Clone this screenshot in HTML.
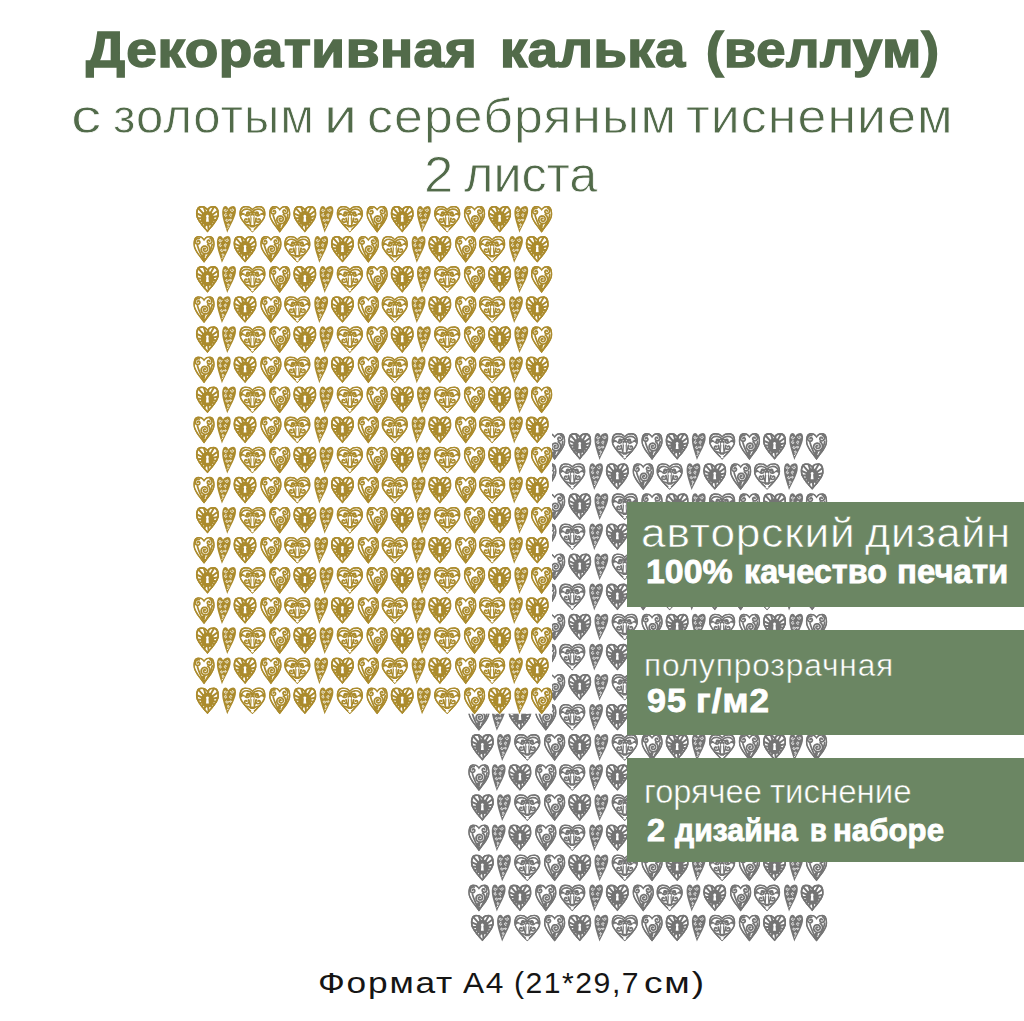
<!DOCTYPE html>
<html><head><meta charset="utf-8">
<style>
html,body{margin:0;padding:0;background:#fff;}
body{width:1024px;height:1021px;position:relative;overflow:hidden;font-family:"Liberation Sans",sans-serif;}
.t{position:absolute;white-space:nowrap;line-height:1;transform-origin:0 0;}
svg.layer{position:absolute;left:0;top:0;}
.box{position:absolute;left:627px;width:397px;background:#6b8663;}
</style></head><body>
<svg class="layer" width="1024" height="1021" viewBox="0 0 1024 1021"><defs><clipPath id="cK"><path d="M368,92 C419,22 492,0 570,0 C680,2 735,110 735,262 C735,455 529,650 368,850 C206,650 0,455 0,262 C0,110 55,2 165,0 C243,0 316,22 368,92Z"/></clipPath><clipPath id="cO"><path d="M420,92 C479,22 563,0 651,0 C777,2 840,110 840,262 C840,455 605,650 420,850 C235,650 0,455 0,262 C0,110 63,2 189,0 C277,0 361,22 420,92Z"/></clipPath><clipPath id="cS"><path d="M340,92 C388,22 456,0 527,0 C629,2 680,110 680,262 C680,455 490,650 340,855 C190,650 0,455 0,262 C0,110 51,2 153,0 C224,0 292,22 340,92Z"/></clipPath><symbol id="hK" viewBox="0 0 735 850" overflow="visible"><path d="M368,92 C419,22 492,0 570,0 C680,2 735,110 735,262 C735,455 529,650 368,850 C206,650 0,455 0,262 C0,110 55,2 165,0 C243,0 316,22 368,92Z"/><g clip-path="url(#cK)"><path fill="#fff" transform="translate(368,382) scale(0.864,0.865) translate(-368,-382)" d="M368,92 C419,22 492,0 570,0 C680,2 735,110 735,262 C735,455 529,650 368,850 C206,650 0,455 0,262 C0,110 55,2 165,0 C243,0 316,22 368,92Z"/><path fill="none" stroke="currentColor" stroke-width="64" d="M367,395L1052,541M367,395L933,806M367,395L717,1001M367,395L440,1091M367,395L151,1061M367,395L-101,915M367,395L-272,680M367,395L-333,395M367,395L-272,110M367,395L-101,-125M367,395L151,-271M367,395L440,-301M367,395L717,-211M367,395L933,-16M367,395L1052,249"/><ellipse cx="367" cy="400" rx="212" ry="240"/><path fill="none" stroke="currentColor" stroke-width="100" d="M368,92 C419,22 492,0 570,0 C680,2 735,110 735,262 C735,455 529,650 368,850 C206,650 0,455 0,262 C0,110 55,2 165,0 C243,0 316,22 368,92Z"/></g><path fill="#fff" d="M367,285 a45,45 0 1,1 -0.1,0Z M338,330 L396,330 L412,510 L322,510Z"/></symbol><symbol id="hO" viewBox="0 0 840 850" overflow="visible"><path d="M420,92 C479,22 563,0 651,0 C777,2 840,110 840,262 C840,455 605,650 420,850 C235,650 0,455 0,262 C0,110 63,2 189,0 C277,0 361,22 420,92Z"/><g clip-path="url(#cO)"><path fill="#fff" transform="translate(420,382) scale(0.900,0.886) translate(-420,-382)" d="M420,92 C479,22 563,0 651,0 C777,2 840,110 840,262 C840,455 605,650 420,850 C235,650 0,455 0,262 C0,110 63,2 189,0 C277,0 361,22 420,92Z"/><g fill="none" stroke="currentColor" stroke-width="54" stroke-linecap="round"><path d="M60,290 C45,160 150,95 260,105 C330,112 385,150 420,200"/><path d="M780,290 C795,160 690,95 580,105 C510,112 455,150 420,200"/><path d="M246,247 L243,244 L241,240 L239,235 L239,230 L239,225 L241,219 L243,214 L247,209 L252,204 L258,201 L265,198 L273,197 L281,197 L290,199 L298,202 L305,207 L312,214 L318,222 L322,231 L325,241 L326,252 L325,263 L321,274 L316,285 L309,295 L299,303 L288,310 L276,315 L263,318 L249,318 L235,316 L221,311 L208,304 L196,294 C360,170 400,200 420,240"/><path d="M594,247 L597,244 L599,240 L601,235 L601,230 L601,225 L599,219 L597,214 L593,209 L588,204 L582,201 L575,198 L567,197 L559,197 L550,199 L542,202 L535,207 L528,214 L522,222 L518,231 L515,241 L514,252 L515,263 L519,274 L524,285 L531,295 L541,303 L552,310 L564,315 L577,318 L591,318 L605,316 L619,311 L632,304 L644,294 C480,170 440,200 420,240"/><path d="M242,440 L242,436 L240,431 L238,427 L234,423 L230,420 L224,417 L218,416 L211,416 L204,417 L197,420 L191,424 L185,429 L180,436 L176,444 L173,453 L173,463 L174,472 L177,482 L182,492 L189,500 L197,508 L208,514 L219,518 L231,520 L244,520 L257,517 L270,512 L282,505 L292,495 L301,483 L308,470 L312,455 L314,439 L313,423 L308,407 L301,391 L291,377 C330,520 360,560 375,640"/><path d="M598,440 L598,436 L600,431 L602,427 L606,423 L610,420 L616,417 L622,416 L629,416 L636,417 L643,420 L649,424 L655,429 L660,436 L664,444 L667,453 L667,463 L666,472 L663,482 L658,492 L651,500 L643,508 L632,514 L621,518 L609,520 L596,520 L583,517 L570,512 L558,505 L548,495 L539,483 L532,470 L528,455 L526,439 L527,423 L532,407 L539,391 L549,377 C510,520 480,560 465,640"/><path d="M40,245 L150,265"/><path d="M800,245 L690,265"/><path d="M110,570 C200,600 290,590 370,650"/><path d="M730,570 C640,600 550,590 470,650"/><path d="M240,700 L420,800 L600,700"/></g><path d="M350,250 L490,250 L480,690 L360,690Z"/><circle cx="100" cy="250" r="35"/><circle cx="740" cy="250" r="35"/><path fill="none" stroke="currentColor" stroke-width="84" d="M420,92 C479,22 563,0 651,0 C777,2 840,110 840,262 C840,455 605,650 420,850 C235,650 0,455 0,262 C0,110 63,2 189,0 C277,0 361,22 420,92Z"/></g><path fill="#fff" d="M420,300 a44,44 0 1,1 -0.1,0Z M396,350 L444,350 L458,610 L382,610Z"/><path fill="#fff" d="M420,715 L475,770 L420,815 L365,770Z"/></symbol><symbol id="hS" viewBox="0 0 680 855" overflow="visible"><path d="M340,92 C388,22 456,0 527,0 C629,2 680,110 680,262 C680,455 490,650 340,855 C190,650 0,455 0,262 C0,110 51,2 153,0 C224,0 292,22 340,92Z"/><g clip-path="url(#cS)"><path fill="#fff" transform="translate(340,385) scale(0.876,0.887) translate(-340,-385)" d="M340,92 C388,22 456,0 527,0 C629,2 680,110 680,262 C680,455 490,650 340,855 C190,650 0,455 0,262 C0,110 51,2 153,0 C224,0 292,22 340,92Z"/><g fill="none" stroke="currentColor" stroke-width="56" stroke-linecap="round"><path d="M131,178 L131,174 L131,169 L133,165 L136,160 L140,156 L144,153 L150,150 L156,149 L163,148 L171,149 L178,152 L185,156 L191,161 L197,168 L201,176 L204,185 L205,195 L205,205 L202,215 L198,225 L191,234 L183,243 L173,249 L162,255 L150,258 L137,259 L124,257 L110,254 L98,247 L86,239 L76,228 L68,215 L62,201 L58,185 L58,169 L60,152 L65,136 L73,121 L84,107 L98,95 L114,85 L131,78 L150,74 L170,74 L189,77"/><path d="M519,163 L519,159 L519,154 L517,150 L514,145 L510,141 L505,138 L500,135 L493,133 L486,133 L479,134 L471,137 L464,141 L458,147 L453,154 L448,162 L446,171 L445,181 L446,192 L448,202 L453,212 L460,221 L469,229 L479,236 L490,241 L503,244 L516,244 L530,242 L543,237 L556,230 L567,221 L577,209 L585,196 L590,181 L593,165 L593,148 L589,131 L583,115 L573,100 L561,86 L547,75 L530,66"/><path d="M380,408 L378,404 L374,401 L370,399 L365,397 L360,396 L354,397 L348,398 L342,401 L336,406 L331,411 L327,417 L325,425 L323,433 L323,442 L325,451 L329,460 L334,468 L341,475 L349,481 L359,486 L370,489 L382,490 L393,489 L405,486 L417,481 L427,473 L437,464 L444,452 L450,439 L453,425 L454,410 L452,395 L448,380 L440,366 L430,353 L418,342 L404,333 L387,326 L370,323 L352,322 L334,325 L316,331 L299,340 L284,352 L270,368 L260,385 L253,404 L249,425 L248,446 L252,468 L259,489 L271,508 L285,526 L303,541 L323,553 L346,561 L370,565 L395,565 L419,561 L443,552 L466,539 L486,522 L503,502 L516,478 L525,452 L529,425 L529,397 L524,369 L513,342 L499,317 L479,295 L456,276"/><path d="M130,300 C170,450 230,580 320,760"/><path d="M600,270 C580,420 520,540 420,680"/><path d="M330,642 L332,641 L334,640 L336,640 L338,640 L341,641 L343,643 L346,645 L347,647 L349,650 L350,654 L350,658 L349,662 L348,666 L345,670 L342,673 L338,676 L334,678 L329,680 L323,680 L317,680 L312,678 L306,675 L301,671 L297,666 L293,661 L291,654 L290,647 L290,640 L291,632 L294,625 L298,618 L303,612 L310,607 L318,603 L326,600 L335,599 L344,599 L353,602 L362,606"/></g><path d="M220,700 L450,700 L340,850Z"/><path fill="none" stroke="currentColor" stroke-width="84" d="M340,92 C388,22 456,0 527,0 C629,2 680,110 680,262 C680,455 490,650 340,855 C190,650 0,455 0,262 C0,110 51,2 153,0 C224,0 292,22 340,92Z"/></g></symbol><symbol id="hN" viewBox="0 0 440 855" overflow="visible"><path d="M195,90 C235,25 290,0 355,0 C420,5 440,70 440,150 C440,350 260,620 160,855 C90,620 0,400 0,230 C0,90 40,0 100,0 C145,0 175,40 195,90Z"/><g fill="none" stroke="#fff" stroke-width="30" stroke-linecap="round"><path d="M117,135 L118,133 L119,130 L119,127 L118,124 L117,121 L115,118 L112,115 L109,113 L105,112 L101,111 L96,111 L91,111 L87,113 L82,116 L78,119 L75,124 L72,129 L70,135 L69,141 L70,148 L71,154 L74,161 L78,167 L84,172 L90,176 L97,180 L105,182 L113,182 L122,181 L130,179 L138,175 L146,169 L152,162 L157,154 L161,145 L163,135"/><path d="M313,125 L312,123 L311,120 L311,117 L312,114 L313,110 L315,107 L318,105 L321,102 L325,100 L329,100 L334,99 L339,100 L344,102 L349,105 L353,109 L357,113 L360,119 L362,125 L363,132 L362,139 L361,146 L358,152 L353,159 L348,164 L341,169 L333,172 L325,174 L316,175 L307,174 L298,171 L290,167 L282,161 L275,154 L269,145 L265,136 L263,125"/><path d="M120,290 L122,289 L124,288 L127,288 L130,289 L132,290 L135,291 L138,294 L140,297 L141,300 L142,304 L142,308 L142,312 L140,317 L138,321 L134,325 L130,328 L125,331 L120,332 L114,333 L108,333 L102,331 L96,329 L90,325 L85,320 L81,314 L78,307 L76,300 L76,292 L77,284 L79,276 L83,269 L88,262 L94,256 L102,251 L111,247 L120,245"/><path d="M280,300 L282,301 L284,302 L287,302 L290,301 L292,300 L295,299 L298,296 L300,293 L301,290 L302,286 L302,282 L302,278 L300,273 L298,269 L294,265 L290,262 L285,259 L280,258 L274,257 L268,257 L262,259 L256,261 L250,265 L245,270 L241,276 L238,283 L236,290 L236,298 L237,306 L239,314 L243,321 L248,328 L254,334 L262,339 L271,343 L280,345"/><path d="M160,450 L161,448 L162,446 L162,443 L161,440 L160,438 L159,435 L156,432 L153,430 L150,429 L146,428 L142,428 L138,428 L133,430 L129,432 L125,436 L122,440 L119,445 L118,450 L117,456 L117,462 L119,468 L121,474 L125,480 L130,485 L136,489 L143,492 L150,494 L158,494 L166,493 L174,491 L181,487 L188,482 L194,476 L199,468 L203,459 L205,450"/><path d="M262,440 L261,438 L261,437 L261,435 L261,433 L262,430 L263,428 L265,427 L267,425 L270,424 L273,423 L276,423 L279,424 L283,425 L286,427 L288,429 L291,432 L293,436 L294,440 L295,444 L294,449 L293,453 L291,458 L288,462 L285,465 L280,468 L275,471 L270,472 L264,472 L258,472 L253,470 L247,467 L242,463 L238,459 L234,453 L231,447 L230,440"/><path d="M185,608 L183,609 L182,609 L179,610 L177,609 L175,608 L173,607 L171,605 L169,603 L168,600 L167,597 L167,593 L167,590 L169,586 L171,583 L173,580 L177,577 L181,575 L185,574 L190,573 L195,573 L200,574 L205,577 L209,580 L213,584 L217,588 L219,594 L221,600 L221,606 L221,613 L219,619 L216,626 L211,631 L206,636 L200,640 L193,643 L185,645"/><path d="M160,720 L190,690"/></g></symbol></defs>
<g fill="#747474" color="#747474"><use href="#hK" x="470.8" y="433.1" width="23.1" height="26.6"/><use href="#hN" x="497.1" y="433.1" width="13.8" height="26.8"/><use href="#hO" x="514.2" y="433.1" width="26.3" height="26.6"/><use href="#hS" x="544.0" y="433.1" width="21.3" height="26.8"/><use href="#hK" x="568.2" y="433.1" width="23.1" height="26.6"/><use href="#hN" x="594.5" y="433.1" width="13.8" height="26.8"/><use href="#hO" x="611.6" y="433.1" width="26.3" height="26.6"/><use href="#hS" x="641.4" y="433.1" width="21.3" height="26.8"/><use href="#hK" x="665.6" y="433.1" width="23.1" height="26.6"/><use href="#hN" x="691.9" y="433.1" width="13.8" height="26.8"/><use href="#hO" x="709.0" y="433.1" width="26.3" height="26.6"/><use href="#hS" x="738.8" y="433.1" width="21.3" height="26.8"/><use href="#hK" x="763.0" y="433.1" width="23.1" height="26.6"/><use href="#hN" x="789.3" y="433.1" width="13.8" height="26.8"/><use href="#hS" x="805.9" y="433.1" width="21.3" height="26.8"/><use href="#hS" x="468.3" y="463.2" width="21.3" height="26.8"/><use href="#hN" x="491.8" y="463.2" width="13.8" height="26.8"/><use href="#hK" x="508.4" y="463.2" width="23.1" height="26.6"/><use href="#hS" x="535.2" y="463.2" width="21.3" height="26.8"/><use href="#hO" x="559.1" y="463.2" width="26.3" height="26.6"/><use href="#hN" x="589.2" y="463.2" width="13.8" height="26.8"/><use href="#hK" x="605.8" y="463.2" width="23.1" height="26.6"/><use href="#hS" x="632.6" y="463.2" width="21.3" height="26.8"/><use href="#hO" x="656.5" y="463.2" width="26.3" height="26.6"/><use href="#hN" x="686.6" y="463.2" width="13.8" height="26.8"/><use href="#hK" x="703.2" y="463.2" width="23.1" height="26.6"/><use href="#hS" x="730.0" y="463.2" width="21.3" height="26.8"/><use href="#hO" x="753.9" y="463.2" width="26.3" height="26.6"/><use href="#hN" x="784.0" y="463.2" width="13.8" height="26.8"/><use href="#hK" x="800.6" y="463.2" width="23.1" height="26.6"/><use href="#hK" x="470.8" y="493.3" width="23.1" height="26.6"/><use href="#hN" x="497.1" y="493.3" width="13.8" height="26.8"/><use href="#hO" x="514.2" y="493.3" width="26.3" height="26.6"/><use href="#hS" x="544.0" y="493.3" width="21.3" height="26.8"/><use href="#hK" x="568.2" y="493.3" width="23.1" height="26.6"/><use href="#hN" x="594.5" y="493.3" width="13.8" height="26.8"/><use href="#hO" x="611.6" y="493.3" width="26.3" height="26.6"/><use href="#hS" x="641.4" y="493.3" width="21.3" height="26.8"/><use href="#hK" x="665.6" y="493.3" width="23.1" height="26.6"/><use href="#hN" x="691.9" y="493.3" width="13.8" height="26.8"/><use href="#hO" x="709.0" y="493.3" width="26.3" height="26.6"/><use href="#hS" x="738.8" y="493.3" width="21.3" height="26.8"/><use href="#hK" x="763.0" y="493.3" width="23.1" height="26.6"/><use href="#hN" x="789.3" y="493.3" width="13.8" height="26.8"/><use href="#hS" x="805.9" y="493.3" width="21.3" height="26.8"/><use href="#hS" x="468.3" y="523.4" width="21.3" height="26.8"/><use href="#hN" x="491.8" y="523.4" width="13.8" height="26.8"/><use href="#hK" x="508.4" y="523.4" width="23.1" height="26.6"/><use href="#hS" x="535.2" y="523.4" width="21.3" height="26.8"/><use href="#hO" x="559.1" y="523.4" width="26.3" height="26.6"/><use href="#hN" x="589.2" y="523.4" width="13.8" height="26.8"/><use href="#hK" x="605.8" y="523.4" width="23.1" height="26.6"/><use href="#hS" x="632.6" y="523.4" width="21.3" height="26.8"/><use href="#hO" x="656.5" y="523.4" width="26.3" height="26.6"/><use href="#hN" x="686.6" y="523.4" width="13.8" height="26.8"/><use href="#hK" x="703.2" y="523.4" width="23.1" height="26.6"/><use href="#hS" x="730.0" y="523.4" width="21.3" height="26.8"/><use href="#hO" x="753.9" y="523.4" width="26.3" height="26.6"/><use href="#hN" x="784.0" y="523.4" width="13.8" height="26.8"/><use href="#hK" x="800.6" y="523.4" width="23.1" height="26.6"/><use href="#hK" x="470.8" y="553.5" width="23.1" height="26.6"/><use href="#hN" x="497.1" y="553.5" width="13.8" height="26.8"/><use href="#hO" x="514.2" y="553.5" width="26.3" height="26.6"/><use href="#hS" x="544.0" y="553.5" width="21.3" height="26.8"/><use href="#hK" x="568.2" y="553.5" width="23.1" height="26.6"/><use href="#hN" x="594.5" y="553.5" width="13.8" height="26.8"/><use href="#hO" x="611.6" y="553.5" width="26.3" height="26.6"/><use href="#hS" x="641.4" y="553.5" width="21.3" height="26.8"/><use href="#hK" x="665.6" y="553.5" width="23.1" height="26.6"/><use href="#hN" x="691.9" y="553.5" width="13.8" height="26.8"/><use href="#hO" x="709.0" y="553.5" width="26.3" height="26.6"/><use href="#hS" x="738.8" y="553.5" width="21.3" height="26.8"/><use href="#hK" x="763.0" y="553.5" width="23.1" height="26.6"/><use href="#hN" x="789.3" y="553.5" width="13.8" height="26.8"/><use href="#hS" x="805.9" y="553.5" width="21.3" height="26.8"/><use href="#hS" x="468.3" y="583.6" width="21.3" height="26.8"/><use href="#hN" x="491.8" y="583.6" width="13.8" height="26.8"/><use href="#hK" x="508.4" y="583.6" width="23.1" height="26.6"/><use href="#hS" x="535.2" y="583.6" width="21.3" height="26.8"/><use href="#hO" x="559.1" y="583.6" width="26.3" height="26.6"/><use href="#hN" x="589.2" y="583.6" width="13.8" height="26.8"/><use href="#hK" x="605.8" y="583.6" width="23.1" height="26.6"/><use href="#hS" x="632.6" y="583.6" width="21.3" height="26.8"/><use href="#hO" x="656.5" y="583.6" width="26.3" height="26.6"/><use href="#hN" x="686.6" y="583.6" width="13.8" height="26.8"/><use href="#hK" x="703.2" y="583.6" width="23.1" height="26.6"/><use href="#hS" x="730.0" y="583.6" width="21.3" height="26.8"/><use href="#hO" x="753.9" y="583.6" width="26.3" height="26.6"/><use href="#hN" x="784.0" y="583.6" width="13.8" height="26.8"/><use href="#hK" x="800.6" y="583.6" width="23.1" height="26.6"/><use href="#hK" x="470.8" y="613.7" width="23.1" height="26.6"/><use href="#hN" x="497.1" y="613.7" width="13.8" height="26.8"/><use href="#hO" x="514.2" y="613.7" width="26.3" height="26.6"/><use href="#hS" x="544.0" y="613.7" width="21.3" height="26.8"/><use href="#hK" x="568.2" y="613.7" width="23.1" height="26.6"/><use href="#hN" x="594.5" y="613.7" width="13.8" height="26.8"/><use href="#hO" x="611.6" y="613.7" width="26.3" height="26.6"/><use href="#hS" x="641.4" y="613.7" width="21.3" height="26.8"/><use href="#hK" x="665.6" y="613.7" width="23.1" height="26.6"/><use href="#hN" x="691.9" y="613.7" width="13.8" height="26.8"/><use href="#hO" x="709.0" y="613.7" width="26.3" height="26.6"/><use href="#hS" x="738.8" y="613.7" width="21.3" height="26.8"/><use href="#hK" x="763.0" y="613.7" width="23.1" height="26.6"/><use href="#hN" x="789.3" y="613.7" width="13.8" height="26.8"/><use href="#hS" x="805.9" y="613.7" width="21.3" height="26.8"/><use href="#hS" x="468.3" y="643.8" width="21.3" height="26.8"/><use href="#hN" x="491.8" y="643.8" width="13.8" height="26.8"/><use href="#hK" x="508.4" y="643.8" width="23.1" height="26.6"/><use href="#hS" x="535.2" y="643.8" width="21.3" height="26.8"/><use href="#hO" x="559.1" y="643.8" width="26.3" height="26.6"/><use href="#hN" x="589.2" y="643.8" width="13.8" height="26.8"/><use href="#hK" x="605.8" y="643.8" width="23.1" height="26.6"/><use href="#hS" x="632.6" y="643.8" width="21.3" height="26.8"/><use href="#hO" x="656.5" y="643.8" width="26.3" height="26.6"/><use href="#hN" x="686.6" y="643.8" width="13.8" height="26.8"/><use href="#hK" x="703.2" y="643.8" width="23.1" height="26.6"/><use href="#hS" x="730.0" y="643.8" width="21.3" height="26.8"/><use href="#hO" x="753.9" y="643.8" width="26.3" height="26.6"/><use href="#hN" x="784.0" y="643.8" width="13.8" height="26.8"/><use href="#hK" x="800.6" y="643.8" width="23.1" height="26.6"/><use href="#hK" x="470.8" y="673.9" width="23.1" height="26.6"/><use href="#hN" x="497.1" y="673.9" width="13.8" height="26.8"/><use href="#hO" x="514.2" y="673.9" width="26.3" height="26.6"/><use href="#hS" x="544.0" y="673.9" width="21.3" height="26.8"/><use href="#hK" x="568.2" y="673.9" width="23.1" height="26.6"/><use href="#hN" x="594.5" y="673.9" width="13.8" height="26.8"/><use href="#hO" x="611.6" y="673.9" width="26.3" height="26.6"/><use href="#hS" x="641.4" y="673.9" width="21.3" height="26.8"/><use href="#hK" x="665.6" y="673.9" width="23.1" height="26.6"/><use href="#hN" x="691.9" y="673.9" width="13.8" height="26.8"/><use href="#hO" x="709.0" y="673.9" width="26.3" height="26.6"/><use href="#hS" x="738.8" y="673.9" width="21.3" height="26.8"/><use href="#hK" x="763.0" y="673.9" width="23.1" height="26.6"/><use href="#hN" x="789.3" y="673.9" width="13.8" height="26.8"/><use href="#hS" x="805.9" y="673.9" width="21.3" height="26.8"/><use href="#hS" x="468.3" y="704.0" width="21.3" height="26.8"/><use href="#hN" x="491.8" y="704.0" width="13.8" height="26.8"/><use href="#hK" x="508.4" y="704.0" width="23.1" height="26.6"/><use href="#hS" x="535.2" y="704.0" width="21.3" height="26.8"/><use href="#hO" x="559.1" y="704.0" width="26.3" height="26.6"/><use href="#hN" x="589.2" y="704.0" width="13.8" height="26.8"/><use href="#hK" x="605.8" y="704.0" width="23.1" height="26.6"/><use href="#hS" x="632.6" y="704.0" width="21.3" height="26.8"/><use href="#hO" x="656.5" y="704.0" width="26.3" height="26.6"/><use href="#hN" x="686.6" y="704.0" width="13.8" height="26.8"/><use href="#hK" x="703.2" y="704.0" width="23.1" height="26.6"/><use href="#hS" x="730.0" y="704.0" width="21.3" height="26.8"/><use href="#hO" x="753.9" y="704.0" width="26.3" height="26.6"/><use href="#hN" x="784.0" y="704.0" width="13.8" height="26.8"/><use href="#hK" x="800.6" y="704.0" width="23.1" height="26.6"/><use href="#hK" x="470.8" y="734.1" width="23.1" height="26.6"/><use href="#hN" x="497.1" y="734.1" width="13.8" height="26.8"/><use href="#hO" x="514.2" y="734.1" width="26.3" height="26.6"/><use href="#hS" x="544.0" y="734.1" width="21.3" height="26.8"/><use href="#hK" x="568.2" y="734.1" width="23.1" height="26.6"/><use href="#hN" x="594.5" y="734.1" width="13.8" height="26.8"/><use href="#hO" x="611.6" y="734.1" width="26.3" height="26.6"/><use href="#hS" x="641.4" y="734.1" width="21.3" height="26.8"/><use href="#hK" x="665.6" y="734.1" width="23.1" height="26.6"/><use href="#hN" x="691.9" y="734.1" width="13.8" height="26.8"/><use href="#hO" x="709.0" y="734.1" width="26.3" height="26.6"/><use href="#hS" x="738.8" y="734.1" width="21.3" height="26.8"/><use href="#hK" x="763.0" y="734.1" width="23.1" height="26.6"/><use href="#hN" x="789.3" y="734.1" width="13.8" height="26.8"/><use href="#hS" x="805.9" y="734.1" width="21.3" height="26.8"/><use href="#hS" x="468.3" y="764.2" width="21.3" height="26.8"/><use href="#hN" x="491.8" y="764.2" width="13.8" height="26.8"/><use href="#hK" x="508.4" y="764.2" width="23.1" height="26.6"/><use href="#hS" x="535.2" y="764.2" width="21.3" height="26.8"/><use href="#hO" x="559.1" y="764.2" width="26.3" height="26.6"/><use href="#hN" x="589.2" y="764.2" width="13.8" height="26.8"/><use href="#hK" x="605.8" y="764.2" width="23.1" height="26.6"/><use href="#hS" x="632.6" y="764.2" width="21.3" height="26.8"/><use href="#hO" x="656.5" y="764.2" width="26.3" height="26.6"/><use href="#hN" x="686.6" y="764.2" width="13.8" height="26.8"/><use href="#hK" x="703.2" y="764.2" width="23.1" height="26.6"/><use href="#hS" x="730.0" y="764.2" width="21.3" height="26.8"/><use href="#hO" x="753.9" y="764.2" width="26.3" height="26.6"/><use href="#hN" x="784.0" y="764.2" width="13.8" height="26.8"/><use href="#hK" x="800.6" y="764.2" width="23.1" height="26.6"/><use href="#hK" x="470.8" y="794.3" width="23.1" height="26.6"/><use href="#hN" x="497.1" y="794.3" width="13.8" height="26.8"/><use href="#hO" x="514.2" y="794.3" width="26.3" height="26.6"/><use href="#hS" x="544.0" y="794.3" width="21.3" height="26.8"/><use href="#hK" x="568.2" y="794.3" width="23.1" height="26.6"/><use href="#hN" x="594.5" y="794.3" width="13.8" height="26.8"/><use href="#hO" x="611.6" y="794.3" width="26.3" height="26.6"/><use href="#hS" x="641.4" y="794.3" width="21.3" height="26.8"/><use href="#hK" x="665.6" y="794.3" width="23.1" height="26.6"/><use href="#hN" x="691.9" y="794.3" width="13.8" height="26.8"/><use href="#hO" x="709.0" y="794.3" width="26.3" height="26.6"/><use href="#hS" x="738.8" y="794.3" width="21.3" height="26.8"/><use href="#hK" x="763.0" y="794.3" width="23.1" height="26.6"/><use href="#hN" x="789.3" y="794.3" width="13.8" height="26.8"/><use href="#hS" x="805.9" y="794.3" width="21.3" height="26.8"/><use href="#hS" x="468.3" y="824.4" width="21.3" height="26.8"/><use href="#hN" x="491.8" y="824.4" width="13.8" height="26.8"/><use href="#hK" x="508.4" y="824.4" width="23.1" height="26.6"/><use href="#hS" x="535.2" y="824.4" width="21.3" height="26.8"/><use href="#hO" x="559.1" y="824.4" width="26.3" height="26.6"/><use href="#hN" x="589.2" y="824.4" width="13.8" height="26.8"/><use href="#hK" x="605.8" y="824.4" width="23.1" height="26.6"/><use href="#hS" x="632.6" y="824.4" width="21.3" height="26.8"/><use href="#hO" x="656.5" y="824.4" width="26.3" height="26.6"/><use href="#hN" x="686.6" y="824.4" width="13.8" height="26.8"/><use href="#hK" x="703.2" y="824.4" width="23.1" height="26.6"/><use href="#hS" x="730.0" y="824.4" width="21.3" height="26.8"/><use href="#hO" x="753.9" y="824.4" width="26.3" height="26.6"/><use href="#hN" x="784.0" y="824.4" width="13.8" height="26.8"/><use href="#hK" x="800.6" y="824.4" width="23.1" height="26.6"/><use href="#hK" x="470.8" y="854.5" width="23.1" height="26.6"/><use href="#hN" x="497.1" y="854.5" width="13.8" height="26.8"/><use href="#hO" x="514.2" y="854.5" width="26.3" height="26.6"/><use href="#hS" x="544.0" y="854.5" width="21.3" height="26.8"/><use href="#hK" x="568.2" y="854.5" width="23.1" height="26.6"/><use href="#hN" x="594.5" y="854.5" width="13.8" height="26.8"/><use href="#hO" x="611.6" y="854.5" width="26.3" height="26.6"/><use href="#hS" x="641.4" y="854.5" width="21.3" height="26.8"/><use href="#hK" x="665.6" y="854.5" width="23.1" height="26.6"/><use href="#hN" x="691.9" y="854.5" width="13.8" height="26.8"/><use href="#hO" x="709.0" y="854.5" width="26.3" height="26.6"/><use href="#hS" x="738.8" y="854.5" width="21.3" height="26.8"/><use href="#hK" x="763.0" y="854.5" width="23.1" height="26.6"/><use href="#hN" x="789.3" y="854.5" width="13.8" height="26.8"/><use href="#hS" x="805.9" y="854.5" width="21.3" height="26.8"/><use href="#hS" x="468.3" y="884.6" width="21.3" height="26.8"/><use href="#hN" x="491.8" y="884.6" width="13.8" height="26.8"/><use href="#hK" x="508.4" y="884.6" width="23.1" height="26.6"/><use href="#hS" x="535.2" y="884.6" width="21.3" height="26.8"/><use href="#hO" x="559.1" y="884.6" width="26.3" height="26.6"/><use href="#hN" x="589.2" y="884.6" width="13.8" height="26.8"/><use href="#hK" x="605.8" y="884.6" width="23.1" height="26.6"/><use href="#hS" x="632.6" y="884.6" width="21.3" height="26.8"/><use href="#hO" x="656.5" y="884.6" width="26.3" height="26.6"/><use href="#hN" x="686.6" y="884.6" width="13.8" height="26.8"/><use href="#hK" x="703.2" y="884.6" width="23.1" height="26.6"/><use href="#hS" x="730.0" y="884.6" width="21.3" height="26.8"/><use href="#hO" x="753.9" y="884.6" width="26.3" height="26.6"/><use href="#hN" x="784.0" y="884.6" width="13.8" height="26.8"/><use href="#hK" x="800.6" y="884.6" width="23.1" height="26.6"/><use href="#hK" x="470.8" y="914.7" width="23.1" height="26.6"/><use href="#hN" x="497.1" y="914.7" width="13.8" height="26.8"/><use href="#hO" x="514.2" y="914.7" width="26.3" height="26.6"/><use href="#hS" x="544.0" y="914.7" width="21.3" height="26.8"/><use href="#hK" x="568.2" y="914.7" width="23.1" height="26.6"/><use href="#hN" x="594.5" y="914.7" width="13.8" height="26.8"/><use href="#hO" x="611.6" y="914.7" width="26.3" height="26.6"/><use href="#hS" x="641.4" y="914.7" width="21.3" height="26.8"/><use href="#hK" x="665.6" y="914.7" width="23.1" height="26.6"/><use href="#hN" x="691.9" y="914.7" width="13.8" height="26.8"/><use href="#hO" x="709.0" y="914.7" width="26.3" height="26.6"/><use href="#hS" x="738.8" y="914.7" width="21.3" height="26.8"/><use href="#hK" x="763.0" y="914.7" width="23.1" height="26.6"/><use href="#hN" x="789.3" y="914.7" width="13.8" height="26.8"/><use href="#hS" x="805.9" y="914.7" width="21.3" height="26.8"/></g>
<rect x="185" y="190" width="367" height="523.7" fill="#fff"/>
<g fill="#ab8b2d" color="#ab8b2d"><use href="#hK" x="195.9" y="205.9" width="23.1" height="26.6"/><use href="#hN" x="222.2" y="205.9" width="13.8" height="26.8"/><use href="#hO" x="239.3" y="205.9" width="26.3" height="26.6"/><use href="#hS" x="269.1" y="205.9" width="21.3" height="26.8"/><use href="#hK" x="293.3" y="205.9" width="23.1" height="26.6"/><use href="#hN" x="319.6" y="205.9" width="13.8" height="26.8"/><use href="#hO" x="336.7" y="205.9" width="26.3" height="26.6"/><use href="#hS" x="366.5" y="205.9" width="21.3" height="26.8"/><use href="#hK" x="390.7" y="205.9" width="23.1" height="26.6"/><use href="#hN" x="417.0" y="205.9" width="13.8" height="26.8"/><use href="#hO" x="434.1" y="205.9" width="26.3" height="26.6"/><use href="#hS" x="463.9" y="205.9" width="21.3" height="26.8"/><use href="#hK" x="488.1" y="205.9" width="23.1" height="26.6"/><use href="#hN" x="514.4" y="205.9" width="13.8" height="26.8"/><use href="#hS" x="531.0" y="205.9" width="21.3" height="26.8"/><use href="#hS" x="193.4" y="236.0" width="21.3" height="26.8"/><use href="#hN" x="216.9" y="236.0" width="13.8" height="26.8"/><use href="#hK" x="233.5" y="236.0" width="23.1" height="26.6"/><use href="#hS" x="260.3" y="236.0" width="21.3" height="26.8"/><use href="#hO" x="284.2" y="236.0" width="26.3" height="26.6"/><use href="#hN" x="314.3" y="236.0" width="13.8" height="26.8"/><use href="#hK" x="330.9" y="236.0" width="23.1" height="26.6"/><use href="#hS" x="357.7" y="236.0" width="21.3" height="26.8"/><use href="#hO" x="381.6" y="236.0" width="26.3" height="26.6"/><use href="#hN" x="411.7" y="236.0" width="13.8" height="26.8"/><use href="#hK" x="428.3" y="236.0" width="23.1" height="26.6"/><use href="#hS" x="455.1" y="236.0" width="21.3" height="26.8"/><use href="#hO" x="479.0" y="236.0" width="26.3" height="26.6"/><use href="#hN" x="509.1" y="236.0" width="13.8" height="26.8"/><use href="#hK" x="525.7" y="236.0" width="23.1" height="26.6"/><use href="#hK" x="195.9" y="266.1" width="23.1" height="26.6"/><use href="#hN" x="222.2" y="266.1" width="13.8" height="26.8"/><use href="#hO" x="239.3" y="266.1" width="26.3" height="26.6"/><use href="#hS" x="269.1" y="266.1" width="21.3" height="26.8"/><use href="#hK" x="293.3" y="266.1" width="23.1" height="26.6"/><use href="#hN" x="319.6" y="266.1" width="13.8" height="26.8"/><use href="#hO" x="336.7" y="266.1" width="26.3" height="26.6"/><use href="#hS" x="366.5" y="266.1" width="21.3" height="26.8"/><use href="#hK" x="390.7" y="266.1" width="23.1" height="26.6"/><use href="#hN" x="417.0" y="266.1" width="13.8" height="26.8"/><use href="#hO" x="434.1" y="266.1" width="26.3" height="26.6"/><use href="#hS" x="463.9" y="266.1" width="21.3" height="26.8"/><use href="#hK" x="488.1" y="266.1" width="23.1" height="26.6"/><use href="#hN" x="514.4" y="266.1" width="13.8" height="26.8"/><use href="#hS" x="531.0" y="266.1" width="21.3" height="26.8"/><use href="#hS" x="193.4" y="296.2" width="21.3" height="26.8"/><use href="#hN" x="216.9" y="296.2" width="13.8" height="26.8"/><use href="#hK" x="233.5" y="296.2" width="23.1" height="26.6"/><use href="#hS" x="260.3" y="296.2" width="21.3" height="26.8"/><use href="#hO" x="284.2" y="296.2" width="26.3" height="26.6"/><use href="#hN" x="314.3" y="296.2" width="13.8" height="26.8"/><use href="#hK" x="330.9" y="296.2" width="23.1" height="26.6"/><use href="#hS" x="357.7" y="296.2" width="21.3" height="26.8"/><use href="#hO" x="381.6" y="296.2" width="26.3" height="26.6"/><use href="#hN" x="411.7" y="296.2" width="13.8" height="26.8"/><use href="#hK" x="428.3" y="296.2" width="23.1" height="26.6"/><use href="#hS" x="455.1" y="296.2" width="21.3" height="26.8"/><use href="#hO" x="479.0" y="296.2" width="26.3" height="26.6"/><use href="#hN" x="509.1" y="296.2" width="13.8" height="26.8"/><use href="#hK" x="525.7" y="296.2" width="23.1" height="26.6"/><use href="#hK" x="195.9" y="326.3" width="23.1" height="26.6"/><use href="#hN" x="222.2" y="326.3" width="13.8" height="26.8"/><use href="#hO" x="239.3" y="326.3" width="26.3" height="26.6"/><use href="#hS" x="269.1" y="326.3" width="21.3" height="26.8"/><use href="#hK" x="293.3" y="326.3" width="23.1" height="26.6"/><use href="#hN" x="319.6" y="326.3" width="13.8" height="26.8"/><use href="#hO" x="336.7" y="326.3" width="26.3" height="26.6"/><use href="#hS" x="366.5" y="326.3" width="21.3" height="26.8"/><use href="#hK" x="390.7" y="326.3" width="23.1" height="26.6"/><use href="#hN" x="417.0" y="326.3" width="13.8" height="26.8"/><use href="#hO" x="434.1" y="326.3" width="26.3" height="26.6"/><use href="#hS" x="463.9" y="326.3" width="21.3" height="26.8"/><use href="#hK" x="488.1" y="326.3" width="23.1" height="26.6"/><use href="#hN" x="514.4" y="326.3" width="13.8" height="26.8"/><use href="#hS" x="531.0" y="326.3" width="21.3" height="26.8"/><use href="#hS" x="193.4" y="356.4" width="21.3" height="26.8"/><use href="#hN" x="216.9" y="356.4" width="13.8" height="26.8"/><use href="#hK" x="233.5" y="356.4" width="23.1" height="26.6"/><use href="#hS" x="260.3" y="356.4" width="21.3" height="26.8"/><use href="#hO" x="284.2" y="356.4" width="26.3" height="26.6"/><use href="#hN" x="314.3" y="356.4" width="13.8" height="26.8"/><use href="#hK" x="330.9" y="356.4" width="23.1" height="26.6"/><use href="#hS" x="357.7" y="356.4" width="21.3" height="26.8"/><use href="#hO" x="381.6" y="356.4" width="26.3" height="26.6"/><use href="#hN" x="411.7" y="356.4" width="13.8" height="26.8"/><use href="#hK" x="428.3" y="356.4" width="23.1" height="26.6"/><use href="#hS" x="455.1" y="356.4" width="21.3" height="26.8"/><use href="#hO" x="479.0" y="356.4" width="26.3" height="26.6"/><use href="#hN" x="509.1" y="356.4" width="13.8" height="26.8"/><use href="#hK" x="525.7" y="356.4" width="23.1" height="26.6"/><use href="#hK" x="195.9" y="386.5" width="23.1" height="26.6"/><use href="#hN" x="222.2" y="386.5" width="13.8" height="26.8"/><use href="#hO" x="239.3" y="386.5" width="26.3" height="26.6"/><use href="#hS" x="269.1" y="386.5" width="21.3" height="26.8"/><use href="#hK" x="293.3" y="386.5" width="23.1" height="26.6"/><use href="#hN" x="319.6" y="386.5" width="13.8" height="26.8"/><use href="#hO" x="336.7" y="386.5" width="26.3" height="26.6"/><use href="#hS" x="366.5" y="386.5" width="21.3" height="26.8"/><use href="#hK" x="390.7" y="386.5" width="23.1" height="26.6"/><use href="#hN" x="417.0" y="386.5" width="13.8" height="26.8"/><use href="#hO" x="434.1" y="386.5" width="26.3" height="26.6"/><use href="#hS" x="463.9" y="386.5" width="21.3" height="26.8"/><use href="#hK" x="488.1" y="386.5" width="23.1" height="26.6"/><use href="#hN" x="514.4" y="386.5" width="13.8" height="26.8"/><use href="#hS" x="531.0" y="386.5" width="21.3" height="26.8"/><use href="#hS" x="193.4" y="416.6" width="21.3" height="26.8"/><use href="#hN" x="216.9" y="416.6" width="13.8" height="26.8"/><use href="#hK" x="233.5" y="416.6" width="23.1" height="26.6"/><use href="#hS" x="260.3" y="416.6" width="21.3" height="26.8"/><use href="#hO" x="284.2" y="416.6" width="26.3" height="26.6"/><use href="#hN" x="314.3" y="416.6" width="13.8" height="26.8"/><use href="#hK" x="330.9" y="416.6" width="23.1" height="26.6"/><use href="#hS" x="357.7" y="416.6" width="21.3" height="26.8"/><use href="#hO" x="381.6" y="416.6" width="26.3" height="26.6"/><use href="#hN" x="411.7" y="416.6" width="13.8" height="26.8"/><use href="#hK" x="428.3" y="416.6" width="23.1" height="26.6"/><use href="#hS" x="455.1" y="416.6" width="21.3" height="26.8"/><use href="#hO" x="479.0" y="416.6" width="26.3" height="26.6"/><use href="#hN" x="509.1" y="416.6" width="13.8" height="26.8"/><use href="#hK" x="525.7" y="416.6" width="23.1" height="26.6"/><use href="#hK" x="195.9" y="446.7" width="23.1" height="26.6"/><use href="#hN" x="222.2" y="446.7" width="13.8" height="26.8"/><use href="#hO" x="239.3" y="446.7" width="26.3" height="26.6"/><use href="#hS" x="269.1" y="446.7" width="21.3" height="26.8"/><use href="#hK" x="293.3" y="446.7" width="23.1" height="26.6"/><use href="#hN" x="319.6" y="446.7" width="13.8" height="26.8"/><use href="#hO" x="336.7" y="446.7" width="26.3" height="26.6"/><use href="#hS" x="366.5" y="446.7" width="21.3" height="26.8"/><use href="#hK" x="390.7" y="446.7" width="23.1" height="26.6"/><use href="#hN" x="417.0" y="446.7" width="13.8" height="26.8"/><use href="#hO" x="434.1" y="446.7" width="26.3" height="26.6"/><use href="#hS" x="463.9" y="446.7" width="21.3" height="26.8"/><use href="#hK" x="488.1" y="446.7" width="23.1" height="26.6"/><use href="#hN" x="514.4" y="446.7" width="13.8" height="26.8"/><use href="#hS" x="531.0" y="446.7" width="21.3" height="26.8"/><use href="#hS" x="193.4" y="476.8" width="21.3" height="26.8"/><use href="#hN" x="216.9" y="476.8" width="13.8" height="26.8"/><use href="#hK" x="233.5" y="476.8" width="23.1" height="26.6"/><use href="#hS" x="260.3" y="476.8" width="21.3" height="26.8"/><use href="#hO" x="284.2" y="476.8" width="26.3" height="26.6"/><use href="#hN" x="314.3" y="476.8" width="13.8" height="26.8"/><use href="#hK" x="330.9" y="476.8" width="23.1" height="26.6"/><use href="#hS" x="357.7" y="476.8" width="21.3" height="26.8"/><use href="#hO" x="381.6" y="476.8" width="26.3" height="26.6"/><use href="#hN" x="411.7" y="476.8" width="13.8" height="26.8"/><use href="#hK" x="428.3" y="476.8" width="23.1" height="26.6"/><use href="#hS" x="455.1" y="476.8" width="21.3" height="26.8"/><use href="#hO" x="479.0" y="476.8" width="26.3" height="26.6"/><use href="#hN" x="509.1" y="476.8" width="13.8" height="26.8"/><use href="#hK" x="525.7" y="476.8" width="23.1" height="26.6"/><use href="#hK" x="195.9" y="506.9" width="23.1" height="26.6"/><use href="#hN" x="222.2" y="506.9" width="13.8" height="26.8"/><use href="#hO" x="239.3" y="506.9" width="26.3" height="26.6"/><use href="#hS" x="269.1" y="506.9" width="21.3" height="26.8"/><use href="#hK" x="293.3" y="506.9" width="23.1" height="26.6"/><use href="#hN" x="319.6" y="506.9" width="13.8" height="26.8"/><use href="#hO" x="336.7" y="506.9" width="26.3" height="26.6"/><use href="#hS" x="366.5" y="506.9" width="21.3" height="26.8"/><use href="#hK" x="390.7" y="506.9" width="23.1" height="26.6"/><use href="#hN" x="417.0" y="506.9" width="13.8" height="26.8"/><use href="#hO" x="434.1" y="506.9" width="26.3" height="26.6"/><use href="#hS" x="463.9" y="506.9" width="21.3" height="26.8"/><use href="#hK" x="488.1" y="506.9" width="23.1" height="26.6"/><use href="#hN" x="514.4" y="506.9" width="13.8" height="26.8"/><use href="#hS" x="531.0" y="506.9" width="21.3" height="26.8"/><use href="#hS" x="193.4" y="537.0" width="21.3" height="26.8"/><use href="#hN" x="216.9" y="537.0" width="13.8" height="26.8"/><use href="#hK" x="233.5" y="537.0" width="23.1" height="26.6"/><use href="#hS" x="260.3" y="537.0" width="21.3" height="26.8"/><use href="#hO" x="284.2" y="537.0" width="26.3" height="26.6"/><use href="#hN" x="314.3" y="537.0" width="13.8" height="26.8"/><use href="#hK" x="330.9" y="537.0" width="23.1" height="26.6"/><use href="#hS" x="357.7" y="537.0" width="21.3" height="26.8"/><use href="#hO" x="381.6" y="537.0" width="26.3" height="26.6"/><use href="#hN" x="411.7" y="537.0" width="13.8" height="26.8"/><use href="#hK" x="428.3" y="537.0" width="23.1" height="26.6"/><use href="#hS" x="455.1" y="537.0" width="21.3" height="26.8"/><use href="#hO" x="479.0" y="537.0" width="26.3" height="26.6"/><use href="#hN" x="509.1" y="537.0" width="13.8" height="26.8"/><use href="#hK" x="525.7" y="537.0" width="23.1" height="26.6"/><use href="#hK" x="195.9" y="567.1" width="23.1" height="26.6"/><use href="#hN" x="222.2" y="567.1" width="13.8" height="26.8"/><use href="#hO" x="239.3" y="567.1" width="26.3" height="26.6"/><use href="#hS" x="269.1" y="567.1" width="21.3" height="26.8"/><use href="#hK" x="293.3" y="567.1" width="23.1" height="26.6"/><use href="#hN" x="319.6" y="567.1" width="13.8" height="26.8"/><use href="#hO" x="336.7" y="567.1" width="26.3" height="26.6"/><use href="#hS" x="366.5" y="567.1" width="21.3" height="26.8"/><use href="#hK" x="390.7" y="567.1" width="23.1" height="26.6"/><use href="#hN" x="417.0" y="567.1" width="13.8" height="26.8"/><use href="#hO" x="434.1" y="567.1" width="26.3" height="26.6"/><use href="#hS" x="463.9" y="567.1" width="21.3" height="26.8"/><use href="#hK" x="488.1" y="567.1" width="23.1" height="26.6"/><use href="#hN" x="514.4" y="567.1" width="13.8" height="26.8"/><use href="#hS" x="531.0" y="567.1" width="21.3" height="26.8"/><use href="#hS" x="193.4" y="597.2" width="21.3" height="26.8"/><use href="#hN" x="216.9" y="597.2" width="13.8" height="26.8"/><use href="#hK" x="233.5" y="597.2" width="23.1" height="26.6"/><use href="#hS" x="260.3" y="597.2" width="21.3" height="26.8"/><use href="#hO" x="284.2" y="597.2" width="26.3" height="26.6"/><use href="#hN" x="314.3" y="597.2" width="13.8" height="26.8"/><use href="#hK" x="330.9" y="597.2" width="23.1" height="26.6"/><use href="#hS" x="357.7" y="597.2" width="21.3" height="26.8"/><use href="#hO" x="381.6" y="597.2" width="26.3" height="26.6"/><use href="#hN" x="411.7" y="597.2" width="13.8" height="26.8"/><use href="#hK" x="428.3" y="597.2" width="23.1" height="26.6"/><use href="#hS" x="455.1" y="597.2" width="21.3" height="26.8"/><use href="#hO" x="479.0" y="597.2" width="26.3" height="26.6"/><use href="#hN" x="509.1" y="597.2" width="13.8" height="26.8"/><use href="#hK" x="525.7" y="597.2" width="23.1" height="26.6"/><use href="#hK" x="195.9" y="627.3" width="23.1" height="26.6"/><use href="#hN" x="222.2" y="627.3" width="13.8" height="26.8"/><use href="#hO" x="239.3" y="627.3" width="26.3" height="26.6"/><use href="#hS" x="269.1" y="627.3" width="21.3" height="26.8"/><use href="#hK" x="293.3" y="627.3" width="23.1" height="26.6"/><use href="#hN" x="319.6" y="627.3" width="13.8" height="26.8"/><use href="#hO" x="336.7" y="627.3" width="26.3" height="26.6"/><use href="#hS" x="366.5" y="627.3" width="21.3" height="26.8"/><use href="#hK" x="390.7" y="627.3" width="23.1" height="26.6"/><use href="#hN" x="417.0" y="627.3" width="13.8" height="26.8"/><use href="#hO" x="434.1" y="627.3" width="26.3" height="26.6"/><use href="#hS" x="463.9" y="627.3" width="21.3" height="26.8"/><use href="#hK" x="488.1" y="627.3" width="23.1" height="26.6"/><use href="#hN" x="514.4" y="627.3" width="13.8" height="26.8"/><use href="#hS" x="531.0" y="627.3" width="21.3" height="26.8"/><use href="#hS" x="193.4" y="657.4" width="21.3" height="26.8"/><use href="#hN" x="216.9" y="657.4" width="13.8" height="26.8"/><use href="#hK" x="233.5" y="657.4" width="23.1" height="26.6"/><use href="#hS" x="260.3" y="657.4" width="21.3" height="26.8"/><use href="#hO" x="284.2" y="657.4" width="26.3" height="26.6"/><use href="#hN" x="314.3" y="657.4" width="13.8" height="26.8"/><use href="#hK" x="330.9" y="657.4" width="23.1" height="26.6"/><use href="#hS" x="357.7" y="657.4" width="21.3" height="26.8"/><use href="#hO" x="381.6" y="657.4" width="26.3" height="26.6"/><use href="#hN" x="411.7" y="657.4" width="13.8" height="26.8"/><use href="#hK" x="428.3" y="657.4" width="23.1" height="26.6"/><use href="#hS" x="455.1" y="657.4" width="21.3" height="26.8"/><use href="#hO" x="479.0" y="657.4" width="26.3" height="26.6"/><use href="#hN" x="509.1" y="657.4" width="13.8" height="26.8"/><use href="#hK" x="525.7" y="657.4" width="23.1" height="26.6"/><use href="#hK" x="195.9" y="687.5" width="23.1" height="26.6"/><use href="#hN" x="222.2" y="687.5" width="13.8" height="26.8"/><use href="#hO" x="239.3" y="687.5" width="26.3" height="26.6"/><use href="#hS" x="269.1" y="687.5" width="21.3" height="26.8"/><use href="#hK" x="293.3" y="687.5" width="23.1" height="26.6"/><use href="#hN" x="319.6" y="687.5" width="13.8" height="26.8"/><use href="#hO" x="336.7" y="687.5" width="26.3" height="26.6"/><use href="#hS" x="366.5" y="687.5" width="21.3" height="26.8"/><use href="#hK" x="390.7" y="687.5" width="23.1" height="26.6"/><use href="#hN" x="417.0" y="687.5" width="13.8" height="26.8"/><use href="#hO" x="434.1" y="687.5" width="26.3" height="26.6"/><use href="#hS" x="463.9" y="687.5" width="21.3" height="26.8"/><use href="#hK" x="488.1" y="687.5" width="23.1" height="26.6"/><use href="#hN" x="514.4" y="687.5" width="13.8" height="26.8"/><use href="#hS" x="531.0" y="687.5" width="21.3" height="26.8"/></g>
</svg>
<div class="box" style="top:502px;height:105px"></div>
<div class="box" style="top:630px;height:105px"></div>
<div class="box" style="top:758px;height:104px"></div>
<div class="t" id="l1_0" style="left:85.90px;top:25.20px;font-size:50px;color:#526b4a;font-weight:bold;letter-spacing:0.500px;transform:scaleX(1.0977);-webkit-text-stroke:1.5px #526b4a;">Декоративная</div>
<div class="t" id="l1_1" style="left:500.00px;top:25.20px;font-size:50px;color:#526b4a;font-weight:bold;letter-spacing:0.500px;transform:scaleX(1.0847);-webkit-text-stroke:1.5px #526b4a;">калька</div>
<div class="t" id="l1_2" style="left:706.00px;top:25.20px;font-size:50px;color:#526b4a;font-weight:bold;letter-spacing:0.500px;transform:scaleX(1.0516);-webkit-text-stroke:1.5px #526b4a;">(веллум)</div>
<div class="t" id="l2_0" style="left:70.60px;top:92.40px;font-size:48.5px;color:#526b4a;transform:scaleX(1.2500);-webkit-text-stroke:0.8px #fff;">с</div>
<div class="t" id="l2_1" style="left:112.60px;top:92.40px;font-size:48.5px;color:#526b4a;letter-spacing:1.000px;transform:scaleX(1.0116);-webkit-text-stroke:0.8px #fff;">золотым</div>
<div class="t" id="l2_2" style="left:323.80px;top:92.40px;font-size:48.5px;color:#526b4a;transform:scaleX(1.2165);-webkit-text-stroke:0.8px #fff;">и</div>
<div class="t" id="l2_3" style="left:367.20px;top:92.40px;font-size:48.5px;color:#526b4a;letter-spacing:1.000px;transform:scaleX(1.0691);-webkit-text-stroke:0.8px #fff;">серебряным</div>
<div class="t" id="l2_4" style="left:685.60px;top:92.40px;font-size:48.5px;color:#526b4a;letter-spacing:1.000px;transform:scaleX(1.0688);-webkit-text-stroke:0.8px #fff;">тиснением</div>
<div class="t" id="l3_0" style="left:423.60px;top:149.50px;font-size:50px;color:#526b4a;transform:scaleX(1.0529);-webkit-text-stroke:0.8px #fff;">2</div>
<div class="t" id="l3_1" style="left:464.20px;top:149.50px;font-size:50px;color:#526b4a;transform:scaleX(1.0069);-webkit-text-stroke:0.8px #fff;">листа</div>
<div class="t" id="b1a_0" style="left:641.20px;top:511.70px;font-size:41.5px;color:#fff;letter-spacing:0.800px;transform:scaleX(1.0655);-webkit-text-stroke:0.6px #6b8663;">авторский</div>
<div class="t" id="b1a_1" style="left:864.50px;top:511.70px;font-size:41.5px;color:#fff;letter-spacing:0.800px;transform:scaleX(1.0390);-webkit-text-stroke:0.6px #6b8663;">дизайн</div>
<div class="t" id="b1b_0" style="left:646.00px;top:554.30px;font-size:34px;color:#fff;font-weight:bold;transform:scaleX(0.9964);-webkit-text-stroke:0.8px #fff;">100%</div>
<div class="t" id="b1b_1" style="left:743.50px;top:554.30px;font-size:34px;color:#fff;font-weight:bold;transform:scaleX(0.9532);-webkit-text-stroke:0.8px #fff;">качество</div>
<div class="t" id="b1b_2" style="left:896.60px;top:554.30px;font-size:34px;color:#fff;font-weight:bold;transform:scaleX(0.9696);-webkit-text-stroke:0.8px #fff;">печати</div>
<div class="t" id="b2a_0" style="left:643.70px;top:650.00px;font-size:31px;color:#fff;letter-spacing:0.800px;transform:scaleX(1.0235);-webkit-text-stroke:0.5px #6b8663;">полупрозрачная</div>
<div class="t" id="b2b_0" style="left:647.20px;top:682.90px;font-size:34px;color:#fff;font-weight:bold;letter-spacing:1.000px;transform:scaleX(1.0057);-webkit-text-stroke:0.8px #fff;">95</div>
<div class="t" id="b2b_1" style="left:695.50px;top:682.90px;font-size:34px;color:#fff;font-weight:bold;letter-spacing:1.000px;transform:scaleX(1.0319);-webkit-text-stroke:0.8px #fff;">г/м2</div>
<div class="t" id="b3a_0" style="left:643.75px;top:775.60px;font-size:32.6px;color:#fff;transform:scaleX(0.9991);-webkit-text-stroke:0.5px #6b8663;">горячее</div>
<div class="t" id="b3a_1" style="left:769.75px;top:775.60px;font-size:32.6px;color:#fff;transform:scaleX(1.0124);-webkit-text-stroke:0.5px #6b8663;">тиснение</div>
<div class="t" id="b3b_0" style="left:647.25px;top:816.30px;font-size:30.7px;color:#fff;font-weight:bold;transform:scaleX(1.0552);-webkit-text-stroke:0.8px #fff;">2</div>
<div class="t" id="b3b_1" style="left:674.75px;top:816.30px;font-size:30.7px;color:#fff;font-weight:bold;transform:scaleX(0.9842);-webkit-text-stroke:0.8px #fff;">дизайна</div>
<div class="t" id="b3b_2" style="left:809.70px;top:816.30px;font-size:30.7px;color:#fff;font-weight:bold;transform:scaleX(0.8864);-webkit-text-stroke:0.8px #fff;">в</div>
<div class="t" id="b3b_3" style="left:833.30px;top:816.30px;font-size:30.7px;color:#fff;font-weight:bold;transform:scaleX(1.0178);-webkit-text-stroke:0.8px #fff;">наборе</div>
<div class="t" id="f_0" style="left:318.00px;top:967.90px;font-size:30px;color:#151515;letter-spacing:1.500px;transform:scaleX(1.1770);">Формат</div>
<div class="t" id="f_1" style="left:462.80px;top:967.90px;font-size:30px;color:#151515;letter-spacing:1.500px;transform:scaleX(1.0559);">А4</div>
<div class="t" id="f_2" style="left:513.80px;top:967.90px;font-size:30px;color:#151515;letter-spacing:1.500px;transform:scaleX(1.0051);">(21*29,7</div>
<div class="t" id="f_3" style="left:644.40px;top:967.90px;font-size:30px;color:#151515;letter-spacing:1.500px;transform:scaleX(1.2338);">см)</div>
</body></html>
